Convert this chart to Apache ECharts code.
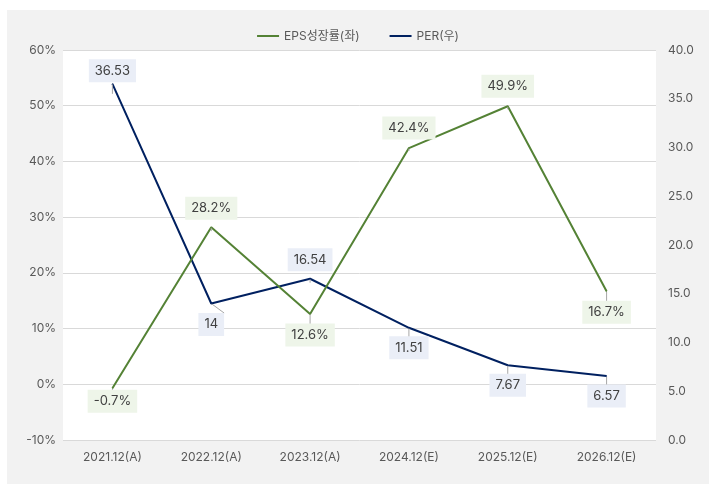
<!DOCTYPE html>
<html><head><meta charset="utf-8">
<script src="https://cdn.jsdelivr.net/npm/echarts@6/dist/echarts.min.js"></script>
<style>
html,body{margin:0;padding:0;background:#fff;}
#wrap{position:absolute;left:7px;top:10px;width:702px;height:474px;background:#f2f2f2;}
#chart{width:702px;height:474px;}
</style></head><body>
<div id="wrap"><div id="chart"></div></div>
<script>
const categories = ['2021.12(A)','2022.12(A)','2023.12(A)','2024.12(E)','2025.12(E)','2026.12(E)'];
const epsGrowth = [-0.7, 28.2, 12.6, 42.4, 49.9, 16.7];
const per = [36.53, 14, 16.54, 11.51, 7.67, 6.57];
const epsLabelPos = ['bottom','top','bottom','top','top','bottom'];
const perLabelPos = ['top','bottom','top','bottom','bottom','bottom'];
const epsLabelDist = [1, 7, 9, 8, 8, 9];
const perLabelDist = [1, 9, 7, 8, 8, 8];
const seriesNames = ['EPS성장률(좌)','PER(우)'];

const FONT = 'Inter, "Noto Sans CJK KR", "Noto Sans", sans-serif';
const chart = echarts.init(document.getElementById('chart'), null, {renderer:'canvas'});

function mkData(vals, pos, dist, fmt, bg){
  return vals.map((v,i)=>({
    value: v,
    label: {
      position: pos[i],
      distance: dist[i],
      formatter: fmt(v),
      backgroundColor: bg,
      padding: [5,6],
      color: '#404040',
      fontSize: 13,
      fontFamily: FONT
    }
  }));
}

chart.setOption({
  backgroundColor: 'transparent',
  textStyle: {fontFamily: FONT},
  legend: {
    top: 15,
    left: 'center',
    itemWidth: 22,
    itemHeight: 2,
    itemGap: 30,
    icon: 'rect',
    textStyle: {color:'#595959', fontSize:12, fontFamily: FONT},
    data: seriesNames
  },
  grid: {
    left: 56, right: 53, top: 40, bottom: 44,
    show: true, backgroundColor: '#ffffff', borderWidth: 0
  },
  xAxis: {
    type: 'category',
    data: categories,
    boundaryGap: true,
    axisLine: {show:false},
    axisTick: {show:false},
    axisLabel: {color:'#595959', fontSize:12, margin:11, fontFamily: FONT}
  },
  yAxis: [
    {
      type:'value', min:-10, max:60, interval:10,
      axisLine:{show:false}, axisTick:{show:false},
      splitLine:{lineStyle:{color:'#d9d9d9', width:1}},
      axisLabel:{color:'#595959', fontSize:12, margin:7, formatter: v => v + '%', fontFamily: FONT}
    },
    {
      type:'value', min:0, max:40, interval:5,
      axisLine:{show:false}, axisTick:{show:false},
      splitLine:{show:false},
      axisLabel:{color:'#595959', fontSize:12, margin:12, formatter: v => v.toFixed(1), fontFamily: FONT}
    }
  ],
  series: [
    {
      name: seriesNames[0],
      type: 'line',
      yAxisIndex: 0,
      data: mkData(epsGrowth, epsLabelPos, epsLabelDist, v => v + '%', '#eef5e9'),
      symbol: 'circle', symbolSize: 1,
      itemStyle: {color:'#548235'},
      lineStyle: {color:'#548235', width:2},
      label: {show:true},
      labelLine: {show:true, lineStyle:{color:'#a6a6a6', width:1}},
      z: 3
    },
    {
      name: seriesNames[1],
      type: 'line',
      yAxisIndex: 1,
      data: mkData(per, perLabelPos, perLabelDist, v => String(v), '#eaeef7'),
      symbol: 'circle', symbolSize: 1,
      itemStyle: {color:'#002060'},
      lineStyle: {color:'#002060', width:2},
      label: {show:true},
      labelLine: {show:true, lineStyle:{color:'#a6a6a6', width:1}},
      z: 2
    }
  ]
});
</script>
</body></html>
